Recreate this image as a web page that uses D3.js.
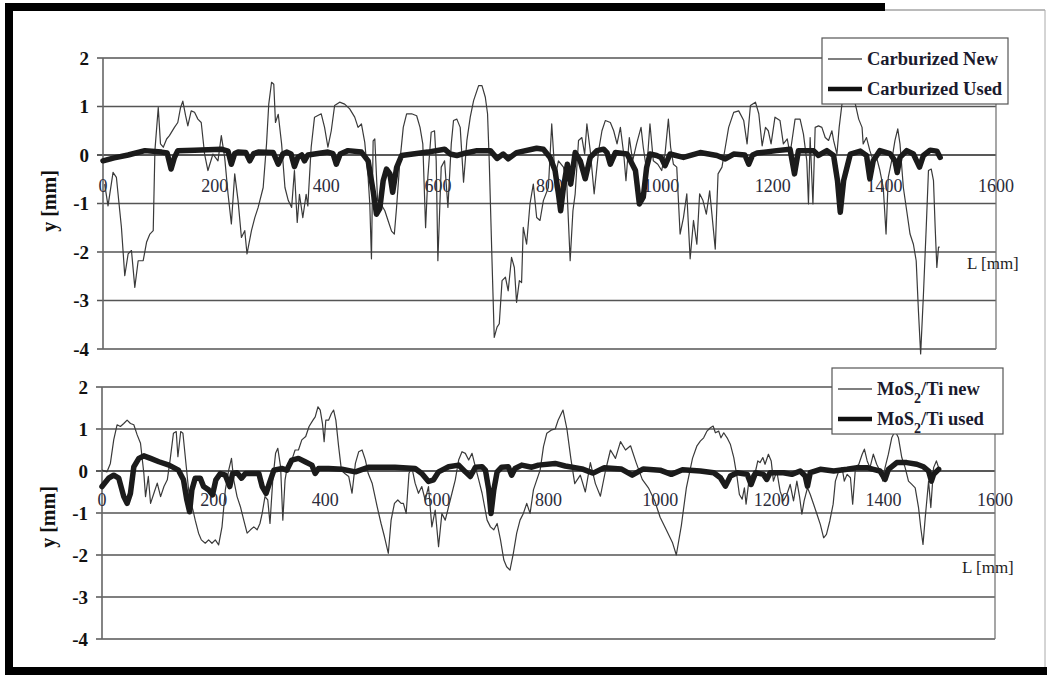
<!DOCTYPE html>
<html>
<head>
<meta charset="utf-8">
<script src="https://cdn.jsdelivr.net/npm/d3@7"></script>
<style>
  body { margin: 0; background: #fff; }
  svg { display: block; }
  .tick-y { font-family: "Liberation Serif", "Times New Roman", serif; font-weight: bold; font-size: 19px; fill: #111; }
  .title-y { font-family: "Liberation Serif", "Times New Roman", serif; font-weight: bold; font-size: 20px; fill: #111; }
  .tick-x { font-family: "Liberation Serif", "Times New Roman", serif; font-size: 18px; fill: #2b2b3a; }
  .axis-title { font-family: "Liberation Serif", "Times New Roman", serif; font-size: 17px; fill: #222; }
  .legend-text { font-family: "Liberation Serif", "Times New Roman", serif; font-weight: bold; font-size: 18.5px; fill: #1a1a2e; }
</style>
</head>
<body>
<svg id="chart" width="1047" height="675"></svg>
<script>
// tick values shared by both panels
const xTicks = [0, 200, 400, 600, 800, 1000, 1200, 1400, 1600];
const yTicks = [-4, -3, -2, -1, 0, 1, 2];

// [L mm, y mm]
const carburizedNew = [
  [3,-0.6],[9,-1.05],[18,-0.36],[24,-0.46],[30,-1.15],[33,-1.49],[39,-2.49],[45,-2.04],[51,-1.97],[57,-2.73],
  [63,-2.18],[72,-2.18],[78,-1.8],[84,-1.63],[90,-1.56],[93,0.09],[99,0.98],[103,0.23],[108,0.16],[114,0.33],
  [119,0.4],[128,0.57],[134,0.67],[139,0.98],[143,1.11],[148,0.81],[152,0.6],[158,0.91],[164,0.88],[170,0.74],
  [176,0.67],[182,0.02],[188,-0.32],[197,0.02],[206,-0.12],[212,0.4],[218,-0.05],[224,-0.8],[230,-1.42],[236,-0.39],
  [242,-0.94],[248,-1.7],[254,-1.56],[258,-2.04],[266,-1.56],[272,-1.29],[278,-1.08],[287,-0.67],[293,0.23],[297,1.05],
  [302,1.5],[306,1.46],[309,0.67],[314,0.84],[320,0.23],[326,-0.67],[332,-0.94],[338,-1.08],[343,-0.32],[348,-1.39],
  [352,-0.81],[358,-1.29],[364,-0.81],[367,-1.05],[373,0.16],[379,0.78],[391,0.85],[397,0.57],[403,0.16],[409,0.5],
  [415,1.02],[424,1.09],[433,1.05],[442,0.95],[451,0.78],[457,0.57],[463,0.64],[469,0.26],[472,-0.12],[475,-0.46],
  [478,-1.01],[481,-2.14],[484,0.29],[487,0.33],[492,-0.94],[498,-1.01],[505,-1.15],[511,-1.36],[517,-1.57],[522,-1.63],
  [526,-1.08],[532,-0.12],[538,0.57],[544,0.85],[553,0.85],[562,0.81],[568,0.57],[573,0.23],[578,-1.5],[582,-0.46],
  [588,0.47],[594,0.5],[597,-0.12],[600,-2.18],[606,-0.25],[612,-0.12],[618,-1.08],[624,0.23],[628,0.71],[634,0.74],
  [640,0.57],[646,-0.56],[652,0.3],[658,0.78],[664,1.12],[673,1.43],[679,1.43],[685,1.19],[689,0.85],[692,-0.12],
  [697,-2.18],[701,-3.76],[706,-3.55],[710,-3.48],[715,-2.59],[721,-2.52],[726,-2.8],[732,-2.11],[737,-2.32],[741,-3.04],
  [746,-2.59],[750,-2.63],[753,-1.49],[759,-1.84],[765,-1.01],[771,-0.6],[777,-1.29],[783,-1.35],[789,-0.94],[798,-0.67],
  [804,0.64],[810,-0.46],[816,-0.12],[825,-0.25],[831,-0.6],[837,-2.18],[842,-1.15],[846,-0.8],[852,0.3],[858,0.36],
  [863,0.02],[867,0.64],[873,0.09],[880,-0.8],[888,0.09],[894,0.5],[900,0.71],[909,0.67],[915,0.5],[921,0.23],
  [927,0.57],[933,0.02],[937,-0.53],[943,0.36],[949,-0.12],[956,0.23],[964,0.57],[968,0.16],[974,-0.32],[980,0.64],
  [986,-0.12],[994,-0.19],[1001,-0.32],[1007,0.02],[1013,0.74],[1017,0.16],[1022,-0.19],[1028,-0.25],[1034,-1.63],[1040,-1.29],
  [1046,-0.8],[1052,-2.14],[1058,-1.35],[1064,-1.84],[1069,-0.8],[1075,-0.94],[1081,-1.22],[1087,-0.74],[1091,-1.22],[1097,-1.94],
  [1102,-0.39],[1109,-0.25],[1115,0.16],[1121,0.57],[1130,0.88],[1139,0.91],[1148,0.71],[1154,0.23],[1160,1.02],[1169,1.09],
  [1175,0.85],[1181,0.19],[1187,0.57],[1192,0.5],[1197,0.23],[1204,0.78],[1213,0.71],[1219,0.23],[1226,0.33],[1231,0.02],
  [1240,0.74],[1249,0.74],[1255,0.43],[1261,-0.12],[1264,-1.01],[1267,0.36],[1272,-1.01],[1276,0.57],[1282,0.6],[1288,0.57],
  [1294,0.36],[1300,0.3],[1306,0.5],[1309,0.3],[1315,0.02],[1319,0.57],[1324,1.05],[1333,1.19],[1342,1.12],[1348,1.05],
  [1354,0.74],[1360,0.57],[1362,0.23],[1368,0.36],[1374,0.09],[1380,-0.12],[1386,-0.05],[1392,-0.32],[1398,-0.67],[1403,-1.63],
  [1407,-0.46],[1413,-0.12],[1419,0.3],[1424,0.54],[1428,0.23],[1434,-0.67],[1440,-1.15],[1446,-1.63],[1452,-1.84],[1457,-2.18],
  [1461,-3.21],[1465,-4.1],[1470,-2.87],[1475,-1.49],[1479,-0.32],[1484,-0.29],[1488,-0.53],[1491,-1.49],[1494,-2.32],[1497,-1.9],
  [1499,-1.9]
];

const carburizedUsed = [
  [0,-0.12],[20,-0.06],[45,0.0],[75,0.09],[105,0.06],[115,0.04],[122,-0.29],[128,-0.05],[134,0.09],[164,0.1],
  [212,0.12],[224,0.08],[230,-0.19],[236,0.03],[242,0.06],[256,0.05],[263,-0.12],[270,0.03],[278,0.06],[305,0.05],
  [314,-0.19],[322,0.02],[329,0.06],[337,0.02],[343,-0.24],[349,-0.05],[356,0.0],[361,-0.12],[367,0.0],[379,0.02],
  [403,0.06],[412,0.03],[418,-0.19],[425,0.02],[439,0.09],[463,0.06],[475,-0.12],[484,-0.74],[490,-1.22],[496,-1.1],
  [502,-0.53],[508,-0.29],[514,-0.39],[519,-0.77],[526,-0.26],[535,-0.01],[582,0.06],[612,0.12],[622,0.02],[634,-0.01],
  [646,0.03],[670,0.09],[694,0.09],[706,-0.07],[717,0.02],[726,-0.08],[741,0.05],[777,0.14],[789,0.12],[801,-0.05],
  [810,-0.32],[816,-0.8],[820,-1.15],[825,-0.67],[832,-0.19],[838,-0.6],[846,0.05],[855,-0.12],[864,-0.49],[873,-0.05],
  [885,0.09],[897,0.12],[903,0.05],[909,-0.19],[918,0.05],[939,0.02],[954,-0.32],[961,-1.01],[968,-0.87],[974,-0.26],
  [980,0.02],[992,-0.01],[1000,-0.05],[1007,-0.22],[1016,0.02],[1040,-0.05],[1070,0.05],[1100,-0.01],[1115,-0.08],[1130,0.02],
  [1150,0.0],[1157,-0.19],[1164,0.0],[1172,0.04],[1207,0.09],[1231,0.12],[1239,-0.39],[1246,0.09],[1273,0.09],[1282,-0.01],
  [1297,0.09],[1309,-0.01],[1316,-0.53],[1321,-1.18],[1327,-0.53],[1339,0.02],[1357,0.08],[1368,-0.01],[1374,-0.49],[1380,-0.12],
  [1392,0.09],[1410,0.03],[1419,-0.12],[1423,-0.36],[1428,-0.05],[1440,0.09],[1452,0.02],[1463,-0.25],[1470,-0.01],[1482,0.1],
  [1494,0.08],[1500,-0.05]
];

// [L mm, y mm]
const mosTiNew = [
  [0,0.02],[9,-0.02],[15,0.18],[21,0.74],[27,1.1],[33,1.06],[39,1.13],[45,1.21],[51,1.13],[57,1.1],
  [63,0.86],[69,0.66],[75,-0.06],[78,-0.61],[83,-0.13],[87,-0.77],[93,-0.53],[99,-0.29],[105,-0.61],[111,-0.37],
  [117,-0.21],[122,0.26],[128,0.9],[133,0.94],[136,0.34],[141,0.94],[145,0.9],[151,0.1],[157,-0.69],[163,-0.93],
  [167,-1.17],[173,-1.48],[178,-1.64],[185,-1.72],[191,-1.64],[197,-1.72],[203,-1.64],[209,-1.76],[215,-1.33],[221,-0.45],
  [227,0.02],[232,0.3],[236,-0.21],[242,-0.61],[248,-0.85],[254,-1.17],[260,-1.48],[266,-1.4],[272,-1.33],[278,-1.4],
  [283,-1.25],[287,-1.01],[292,-0.61],[297,-0.69],[301,-1.25],[306,-0.21],[311,0.42],[315,0.54],[320,0.1],[324,-1.17],
  [328,-0.21],[333,0.18],[340,0.26],[346,0.5],[352,0.5],[358,0.74],[365,0.82],[371,1.06],[378,1.21],[382,1.29],
  [387,1.53],[391,1.45],[395,1.13],[398,0.7],[401,1.21],[406,1.21],[411,1.37],[415,1.45],[419,1.21],[424,0.58],
  [429,0.02],[435,-0.06],[442,-0.13],[448,-0.53],[454,0.18],[460,0.46],[466,0.5],[472,0.26],[477,-0.06],[484,-0.29],
  [493,-0.85],[500,-1.25],[506,-1.56],[513,-1.96],[518,-1.17],[524,-0.77],[530,-0.69],[536,-0.77],[540,-0.77],[545,-1.01],
  [550,-0.06],[555,0.1],[561,-0.29],[567,-0.53],[573,-0.37],[579,-0.69],[585,-0.37],[591,-1.33],[597,-0.93],[603,-1.8],
  [609,-1.01],[615,-1.17],[621,-0.85],[627,-0.53],[633,-0.21],[639,0.26],[645,0.46],[651,0.42],[657,0.26],[663,0.42],
  [669,0.1],[675,-0.21],[681,-0.53],[690,-1.17],[696,-1.33],[702,-1.4],[708,-1.25],[714,-1.64],[720,-2.12],[725,-2.28],
  [731,-2.36],[737,-1.96],[743,-1.48],[749,-1.17],[755,-1.01],[761,-0.77],[767,-1.01],[773,-0.45],[779,-0.21],[785,0.02],
  [791,0.58],[797,0.9],[806,0.98],[812,1.0],[817,1.2],[826,1.45],[833,1.0],[840,0.3],[847,-0.3],[857,-0.1],
  [866,-0.5],[875,0.2],[884,-0.3],[893,-0.6],[902,0.0],[911,0.5],[920,0.3],[929,0.7],[938,0.5],[947,0.6],
  [957,0.2],[968,-0.2],[979,-0.4],[990,-0.7],[1000,-1.1],[1011,-1.4],[1022,-1.7],[1029,-2.0],[1038,-1.3],[1047,-0.4],
  [1058,0.3],[1066,0.6],[1072,0.71],[1078,0.79],[1084,0.95],[1090,1.03],[1095,1.07],[1099,0.91],[1105,0.95],[1109,0.79],
  [1114,0.91],[1120,0.79],[1126,0.63],[1132,0.32],[1138,-0.16],[1142,-0.56],[1147,-0.67],[1151,-0.4],[1154,-0.79],[1159,-0.24],
  [1165,-0.08],[1171,0.0],[1175,0.24],[1179,0.2],[1184,0.32],[1188,0.16],[1194,0.4],[1199,0.24],[1203,-0.24],[1209,0.0],
  [1215,-0.48],[1221,-0.71],[1227,-0.56],[1233,-0.32],[1239,-0.71],[1245,-0.24],[1250,-0.63],[1254,-1.03],[1258,-0.71],[1264,-0.4],
  [1269,-0.56],[1275,-0.79],[1281,-1.03],[1287,-1.27],[1293,-1.59],[1298,-1.51],[1304,-1.19],[1310,-0.79],[1314,-0.24],[1320,0.0],
  [1326,0.08],[1330,-0.24],[1335,-0.08],[1341,-0.16],[1345,-0.79],[1350,0.08],[1356,0.16],[1362,0.4],[1366,0.52],[1371,0.24],
  [1376,0.08],[1382,0.4],[1388,0.16],[1394,0.0],[1399,-0.24],[1403,0.08],[1409,0.4],[1415,0.79],[1421,0.95],[1427,0.79],
  [1433,0.32],[1439,0.08],[1445,-0.24],[1451,-0.32],[1457,-0.4],[1463,-0.87],[1467,-1.35],[1471,-1.75],[1475,-1.11],[1481,-0.24],
  [1485,-0.87],[1490,0.08],[1495,0.24],[1499,0.08]
];

const mosTiUsed = [
  [0,-0.37],[12,-0.17],[21,-0.1],[30,-0.17],[39,-0.61],[45,-0.77],[51,-0.53],[57,0.1],[66,0.3],[75,0.36],
  [87,0.3],[102,0.22],[120,0.14],[137,0.02],[146,-0.21],[152,-0.69],[157,-0.97],[161,-0.45],[167,-0.17],[176,-0.17],
  [182,-0.37],[191,-0.45],[198,-0.57],[204,-0.21],[212,-0.06],[221,-0.1],[229,-0.37],[234,-0.06],[242,-0.04],[250,-0.17],
  [257,-0.06],[281,-0.06],[287,-0.37],[294,-0.53],[300,-0.29],[308,0.02],[323,0.06],[331,0.02],[340,0.26],[352,0.3],
  [364,0.22],[376,0.14],[382,-0.06],[388,0.06],[406,0.06],[430,0.04],[454,-0.02],[478,0.09],[525,0.09],[561,0.06],
  [573,-0.06],[585,-0.25],[594,-0.21],[603,-0.02],[621,0.1],[639,0.14],[651,-0.02],[660,-0.13],[669,0.09],[681,0.1],
  [687,0.02],[693,-0.45],[697,-1.01],[702,-0.45],[708,-0.02],[716,0.09],[728,0.1],[734,-0.1],[740,0.06],[752,0.14],
  [770,0.09],[782,0.14],[812,0.18],[830,0.12],[860,0.05],[880,-0.05],[900,0.08],[930,0.05],[950,-0.1],[970,0.05],
  [1000,0.02],[1020,-0.08],[1040,0.03],[1072,0.0],[1096,-0.04],[1108,-0.16],[1117,-0.36],[1126,-0.12],[1138,-0.04],[1156,-0.08],
  [1163,-0.32],[1171,-0.04],[1185,-0.08],[1191,-0.2],[1197,-0.04],[1221,-0.04],[1236,-0.08],[1251,0.0],[1260,-0.12],[1264,-0.36],
  [1269,-0.04],[1287,0.04],[1311,0.0],[1335,0.04],[1353,0.08],[1371,0.08],[1382,0.04],[1394,0.0],[1403,-0.2],[1409,0.04],
  [1424,0.2],[1442,0.2],[1460,0.16],[1472,0.1],[1481,0.0],[1486,-0.24],[1490,-0.08],[1499,0.04]
];

const svg = d3.select("#chart");

// outer frame: heavy black on left, top (partly) and bottom, thin on the right
svg.append("rect").attr("x", 5).attr("y", 3).attr("width", 8).attr("height", 672).attr("fill", "#000");
svg.append("rect").attr("x", 5).attr("y", 3).attr("width", 880).attr("height", 8).attr("fill", "#000");
svg.append("rect").attr("x", 5).attr("y", 667).attr("width", 1042).attr("height", 8).attr("fill", "#000");
svg.append("line").attr("x1", 885).attr("x2", 1045).attr("y1", 10).attr("y2", 10).attr("stroke", "#777").attr("stroke-width", 1);
svg.append("line").attr("x1", 1045).attr("x2", 1045).attr("y1", 10).attr("y2", 667).attr("stroke", "#aaa").attr("stroke-width", 1);

function drawPanel(cfg) {
	var x = d3.scaleLinear().domain([0, 1600]).range([cfg.left, cfg.right]);
	var y = d3.scaleLinear().domain([-4, 2]).range([cfg.bottom, cfg.top]);
	var g = svg.append("g");

	// horizontal gridlines with a little tick stub left of the axis
	g.selectAll(".grid")
		.data(yTicks)
		.enter().append("line")
		.attr("x1", cfg.left - 6)
		.attr("x2", cfg.right)
		.attr("y1", function(d){ return y(d); })
		.attr("y2", function(d){ return y(d); })
		.attr("stroke", function(d){ return d == 0 ? "#222" : "#555"; })
		.attr("stroke-width", 1.3);

	// left axis + right border
	g.append("line").attr("x1", cfg.left).attr("x2", cfg.left)
		.attr("y1", y(2)).attr("y2", y(-4))
		.attr("stroke", "#666").attr("stroke-width", 1.6);
	g.append("line").attr("x1", cfg.right).attr("x2", cfg.right)
		.attr("y1", y(2)).attr("y2", y(-4))
		.attr("stroke", "#777").attr("stroke-width", 1.3);

	g.selectAll(".tick-y")
		.data(yTicks)
		.enter().append("text")
		.attr("class", "tick-y")
		.attr("x", cfg.left - 14)
		.attr("y", function(d){ return y(d); })
		.attr("dy", "0.35em")
		.attr("text-anchor", "end")
		.text(function(d){ return d; });

	// x labels sit just under the zero line
	g.selectAll(".tick-x")
		.data(xTicks)
		.enter().append("text")
		.attr("class", "tick-x")
		.attr("x", function(d){ return x(d); })
		.attr("y", y(0) + cfg.labelOffset)
		.attr("dy", "0.35em")
		.attr("text-anchor", "middle")
		.text(function(d){ return d; });

	g.append("text")
		.attr("class", "title-y")
		.attr("transform", "translate(" + (cfg.left - 47) + "," + cfg.titleY + ") rotate(-90)")
		.attr("text-anchor", "middle")
		.text("y [mm]");

	g.append("text")
		.attr("class", "axis-title")
		.attr("x", cfg.lx)
		.attr("y", cfg.ly)
		.attr("dy", "0.35em")
		.text("L [mm]");

	var line = d3.line()
		.x(function(d){ return x(d[0]); })
		.y(function(d){ return y(d[1]); });

	g.append("path")
		.datum(cfg.newData)
		.attr("d", line)
		.attr("fill", "none")
		.attr("stroke", "#3a3a3a")
		.attr("stroke-width", 1.2)
		.attr("stroke-linejoin", "round");

	g.append("path")
		.datum(cfg.usedData)
		.attr("d", line)
		.attr("fill", "none")
		.attr("stroke", "#1b1b1b")
		.attr("stroke-width", 5.5)
		.attr("stroke-linejoin", "round")
		.attr("stroke-linecap", "round");

	// legend box
	var lg = g.append("g").attr("transform", "translate(" + cfg.legX + "," + cfg.legY + ")");
	lg.append("rect")
		.attr("width", cfg.legW)
		.attr("height", 66)
		.attr("fill", "#fff")
		.attr("stroke", "#555")
		.attr("stroke-width", 1.2);
	var rows = [
		{ label: cfg.labels[0], w: 1.3, col: "#555", yy: 21 },
		{ label: cfg.labels[1], w: 4.5, col: "#111", yy: 51 }
	];
	rows.forEach(function(r){
		lg.append("line")
			.attr("x1", 6).attr("x2", 40)
			.attr("y1", r.yy).attr("y2", r.yy)
			.attr("stroke", r.col).attr("stroke-width", r.w);
		var t = lg.append("text")
			.attr("class", "legend-text")
			.attr("x", 45)
			.attr("y", r.yy)
			.attr("dy", "0.35em");
		r.label.forEach(function(part){
			var ts = t.append("tspan").text(part.t);
			if (part.sub) ts.attr("baseline-shift", "sub").style("font-size", "14px");
		});
	});
}

drawPanel({
	left: 103, right: 996, top: 58, bottom: 349,
	labelOffset: 31, titleY: 201, lx: 967, ly: 263,
	legX: 822, legY: 38, legW: 186,
	newData: carburizedNew, usedData: carburizedUsed,
	labels: [[{ t: "Carburized New" }], [{ t: "Carburized Used" }]]
});

drawPanel({
	left: 102, right: 995, top: 387, bottom: 639,
	labelOffset: 29, titleY: 517, lx: 962, ly: 567,
	legX: 832, legY: 368, legW: 171,
	newData: mosTiNew, usedData: mosTiUsed,
	labels: [[{ t: "MoS" }, { t: "2", sub: true }, { t: "/Ti new" }],
	         [{ t: "MoS" }, { t: "2", sub: true }, { t: "/Ti used" }]]
});
</script>
</body>
</html>
